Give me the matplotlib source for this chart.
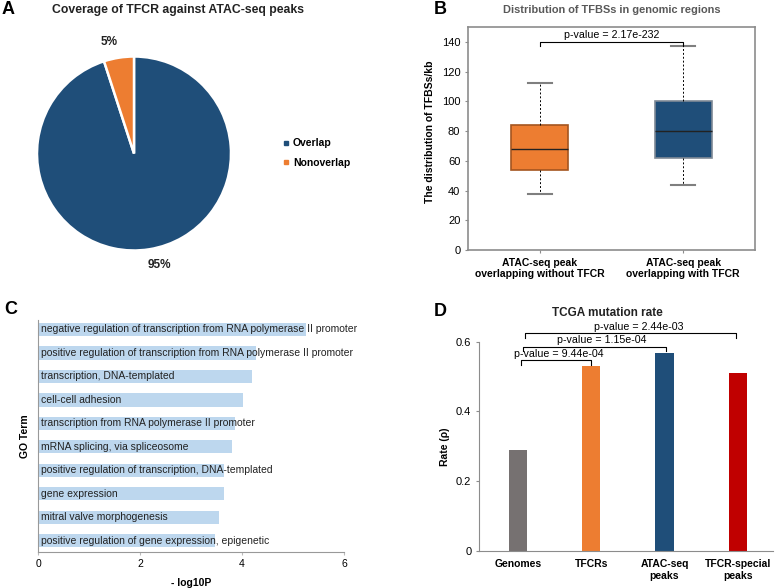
import matplotlib
matplotlib.use("Agg")
import matplotlib.pyplot as plt
from matplotlib.lines import Line2D

plt.rcParams["font.family"] = ["Liberation Sans", "DejaVu Sans"]

# Panel A: pie
pie_labels = ["Overlap", "Nonoverlap"]
pie_values = [95, 5]

# Panel B: box stats (low whisker, q1, median, q3, high whisker)
box_names = ["ATAC-seq peak\noverlapping without TFCR", "ATAC-seq peak\noverlapping with TFCR"]
box_low = [38, 44]
box_q1 = [54, 62]
box_med = [68, 80]
box_q3 = [84, 100]
box_high = [112, 137]
box_pvalue = "p-value = 2.17e-232"

# Panel C: GO terms
go_terms = [
    "negative regulation of transcription from RNA polymerase II promoter",
    "positive regulation of transcription from RNA polymerase II promoter",
    "transcription, DNA-templated",
    "cell-cell adhesion",
    "transcription from RNA polymerase II promoter",
    "mRNA splicing, via spliceosome",
    "positive regulation of transcription, DNA-templated",
    "gene expression",
    "mitral valve morphogenesis",
    "positive regulation of gene expression, epigenetic",
]
go_scores = [5.25, 4.27, 4.19, 4.01, 3.87, 3.80, 3.65, 3.65, 3.54, 3.47]

# Panel D: mutation rates
mut_groups = ["Genomes", "TFCRs", "ATAC-seq\npeaks", "TFCR-special\npeaks"]
mut_rates = [0.289, 0.530, 0.569, 0.509]
mut_pvalues = ["p-value = 9.44e-04", "p-value = 1.15e-04", "p-value = 2.44e-03"]

ORANGE = "#ED7D31"
NAVY = "#1F4E79"
GRAY_SPINE = "#8c8c8c"

fig = plt.figure(figsize=(7.75, 5.88), dpi=100)

# ---------------- A ----------------
axA = fig.add_axes([37 / 775, 1 - 250.5 / 588, 194 / 775, 194 / 588])
wedges, _, autotexts = axA.pie(
    pie_values, startangle=90, counterclock=False, colors=[NAVY, ORANGE],
    autopct="%d%%", pctdistance=1.16,
    wedgeprops=dict(edgecolor="white", linewidth=1.8),
    textprops=dict(fontsize=8.5, fontweight="bold", color="#222222"))
# nudge the percentage labels sideways like the original layout
autotexts[0].set_x(autotexts[0].get_position()[0] + 0.08)
autotexts[1].set_x(autotexts[1].get_position()[0] - 0.07)
axA.set_xlim(-1, 1)
axA.set_ylim(-1, 1)
axA.set_aspect("equal")
axA.axis("off")
handles = [Line2D([], [], marker="s", linestyle="", markersize=2.5, color=c) for c in [NAVY, ORANGE]]
fig.legend(handles, pie_labels, loc="center left", bbox_to_anchor=(273 / 775, 1 - 153 / 588),
           frameon=False, handlelength=0.6, handletextpad=0.4, labelspacing=0.9,
           prop=dict(size=7.5, weight="bold"))
fig.text(178 / 775, 1 - 10 / 588, "Coverage of TFCR against ATAC-seq peaks",
         ha="center", va="center", fontsize=8.8, fontweight="bold", color="#222222")

# ---------------- B ----------------
axB = fig.add_axes([468 / 775, 1 - 250 / 588, 287 / 775, 223 / 588])
stats = []
for i in range(len(box_names)):
    stats.append(dict(whislo=box_low[i], q1=box_q1[i], med=box_med[i], q3=box_q3[i],
                      whishi=box_high[i], fliers=[], label=box_names[i]))
bp = axB.bxp(stats, positions=[1, 2], widths=0.4, patch_artist=True, showfliers=False,
             whiskerprops=dict(color="black", linestyle=(0, (2, 2)), linewidth=0.7),
             capprops=dict(color="#7f7f7f", linewidth=1.5),
             medianprops=dict(color="#222222", linewidth=1.0),
             capwidths=0.17)
for patch, fc, ec in zip(bp["boxes"], [ORANGE, NAVY], ["#a4551f", "#7f8a96"]):
    patch.set_facecolor(fc)
    patch.set_edgecolor(ec)
    patch.set_linewidth(1.2)
axB.set_xlim(0.5, 2.5)
axB.set_ylim(0, 150)
axB.set_yticks(range(0, 141, 20))
axB.tick_params(axis="y", labelsize=8, length=2, color=GRAY_SPINE)
axB.tick_params(axis="x", length=2, color=GRAY_SPINE)
axB.set_xticklabels(box_names, fontsize=7.5, fontweight="bold")
for s in axB.spines.values():
    s.set_color(GRAY_SPINE)
    s.set_linewidth(1.2)
axB.set_ylabel("The distribution of TFBSs/kb", fontsize=7.5, fontweight="bold")
axB.yaxis.set_label_coords(-0.115, 0.53)
axB.plot([1, 1, 2, 2], [137, 140, 140, 137], color="black", linewidth=0.8)
axB.text(1.5, 141.5, box_pvalue, ha="center", va="bottom", fontsize=7.7)
axB.set_title("Distribution of TFBSs in genomic regions", fontsize=7.9, fontweight="bold",
              color="#595959", pad=10)

# ---------------- C ----------------
axC = fig.add_axes([38 / 775, 1 - 551.7 / 588, 306 / 775, 231.7 / 588])
ypos = list(range(len(go_terms)))[::-1]
axC.barh(ypos, go_scores, height=0.57, color="#BDD7EE")
for y, term in zip(ypos, go_terms):
    axC.text(0.05, y, term, ha="left", va="center", fontsize=7.5, color="#222222")
axC.set_ylim(-0.47, 9.4)
axC.set_xlim(0, 6)
axC.set_xticks([0, 2, 4, 6])
axC.set_yticks([])
axC.tick_params(axis="x", labelsize=7.5, length=2, color="#bbbbbb")
for side in ["top", "right"]:
    axC.spines[side].set_visible(False)
for side in ["left", "bottom"]:
    axC.spines[side].set_color("#999999")
axC.set_xlabel("- log10P", fontsize=7.5, fontweight="bold", labelpad=6)
axC.set_ylabel("GO Term", fontsize=7.5, fontweight="bold", labelpad=6)

# ---------------- D ----------------
axD = fig.add_axes([479 / 775, 1 - 551 / 588, 294 / 775, 209.3 / 588])
xs = list(range(len(mut_groups)))
axD.bar(xs, mut_rates, width=0.25, color=["#767171", ORANGE, NAVY, "#C00000"])
axD.set_xlim(-0.53, 3.48)
axD.set_ylim(0, 0.6)
axD.set_yticks([0, 0.2, 0.4, 0.6])
axD.set_yticklabels(["0", "0.2", "0.4", "0.6"])
axD.tick_params(axis="y", labelsize=8, length=2, color=GRAY_SPINE)
axD.tick_params(axis="x", length=0, pad=6)
axD.set_xticks(xs)
axD.set_xticklabels(mut_groups, fontsize=7.5, fontweight="bold")
for side in ["top", "right"]:
    axD.spines[side].set_visible(False)
for side in ["left", "bottom"]:
    axD.spines[side].set_color(GRAY_SPINE)
axD.set_ylabel("Rate (\u03c1)", fontsize=7.5, fontweight="bold")
brackets = [(0.04, 1.0, 0.547, 0.533), (0.07, 2.02, 0.586, 0.573), (0.10, 2.98, 0.624, 0.611)]
text_x = [0.56, 1.15, 1.65]
for (x0, x1, ytop, ybot), tx, label in zip(brackets, text_x, mut_pvalues):
    axD.plot([x0, x0, x1, x1], [ybot, ytop, ytop, ybot], color="black", linewidth=0.8, clip_on=False)
    axD.text(tx, ytop + 0.004, label, ha="center", va="bottom", fontsize=7.7)
fig.text(607 / 775, 1 - 313 / 588, "TCGA mutation rate", ha="center", va="center",
         fontsize=8.5, fontweight="bold", color="#222222")

# panel letters
for letter, x, y in [("A", 2, 10), ("B", 434, 10), ("C", 4, 309), ("D", 434, 312)]:
    fig.text(x / 775, 1 - y / 588, letter, ha="left", va="center", fontsize=13, fontweight="bold")

fig.savefig("out.png", dpi=100)
